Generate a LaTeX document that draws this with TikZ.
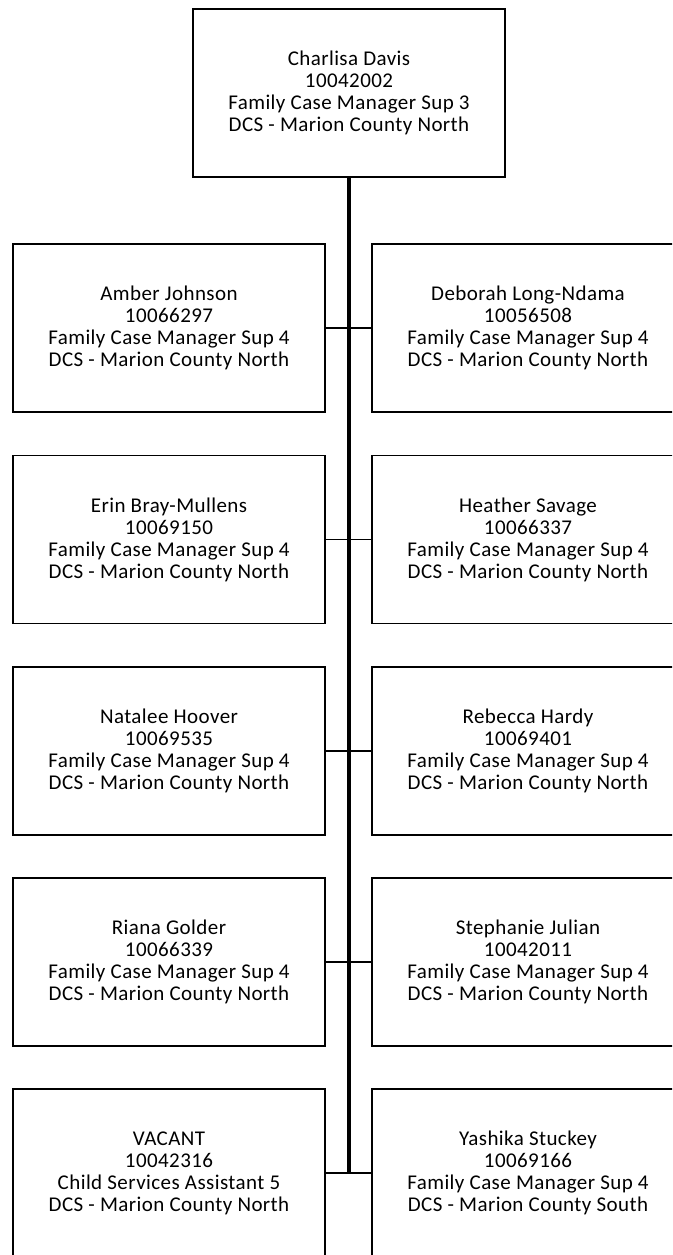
\documentclass[tikz,border=0pt]{standalone}
\usepackage{fontspec}
\setmainfont{Carlito}[LetterSpace=2]
\tikzset{
  staff/.style={draw, line width=1.8pt, minimum width=312pt, minimum height=168pt,
    inner sep=0pt, align=center, font=\fontsize{21}{22}\selectfont},
  trunk/.style={line width=3.6pt},
  branch/.style={line width=1.6pt}
}
\begin{document}
\begin{tikzpicture}[x=1pt, y=-1pt]
\useasboundingbox (0,0) rectangle (672,1255);
\clip (0,0) rectangle (672,1255);
% supervisor
\node[staff] (sup) at (349,93) {Charlisa Davis\\10042002\\Family Case Manager Sup 3\\DCS - Marion County North};
% left column
\node[staff] (l1) at (169,328) {Amber Johnson\\10066297\\Family Case Manager Sup 4\\DCS - Marion County North};
\node[staff] (l2) at (169,539.5) {Erin Bray-Mullens\\10069150\\Family Case Manager Sup 4\\DCS - Marion County North};
\node[staff] (l3) at (169,751) {Natalee Hoover\\10069535\\Family Case Manager Sup 4\\DCS - Marion County North};
\node[staff] (l4) at (169,962) {Riana Golder\\10066339\\Family Case Manager Sup 4\\DCS - Marion County North};
\node[staff] (l5) at (169,1173) {VACANT\\10042316\\Child Services Assistant 5\\DCS - Marion County North};
% right column
\node[staff] (r1) at (528,328) {Deborah Long-Ndama\\10056508\\Family Case Manager Sup 4\\DCS - Marion County North};
\node[staff] (r2) at (528,539.5) {Heather Savage\\10066337\\Family Case Manager Sup 4\\DCS - Marion County North};
\node[staff] (r3) at (528,751) {Rebecca Hardy\\10069401\\Family Case Manager Sup 4\\DCS - Marion County North};
\node[staff] (r4) at (528,962) {Stephanie Julian\\10042011\\Family Case Manager Sup 4\\DCS - Marion County North};
\node[staff] (r5) at (528,1173) {Yashika Stuckey\\10069166\\Family Case Manager Sup 4\\DCS - Marion County South};
% reporting lines
\coordinate (end) at (349,1173);
\draw[trunk] (sup.south) -- (end);
\foreach \r in {1,...,5}
  \draw[branch] (l\r.east) -- (r\r.west);
\end{tikzpicture}
\end{document}
